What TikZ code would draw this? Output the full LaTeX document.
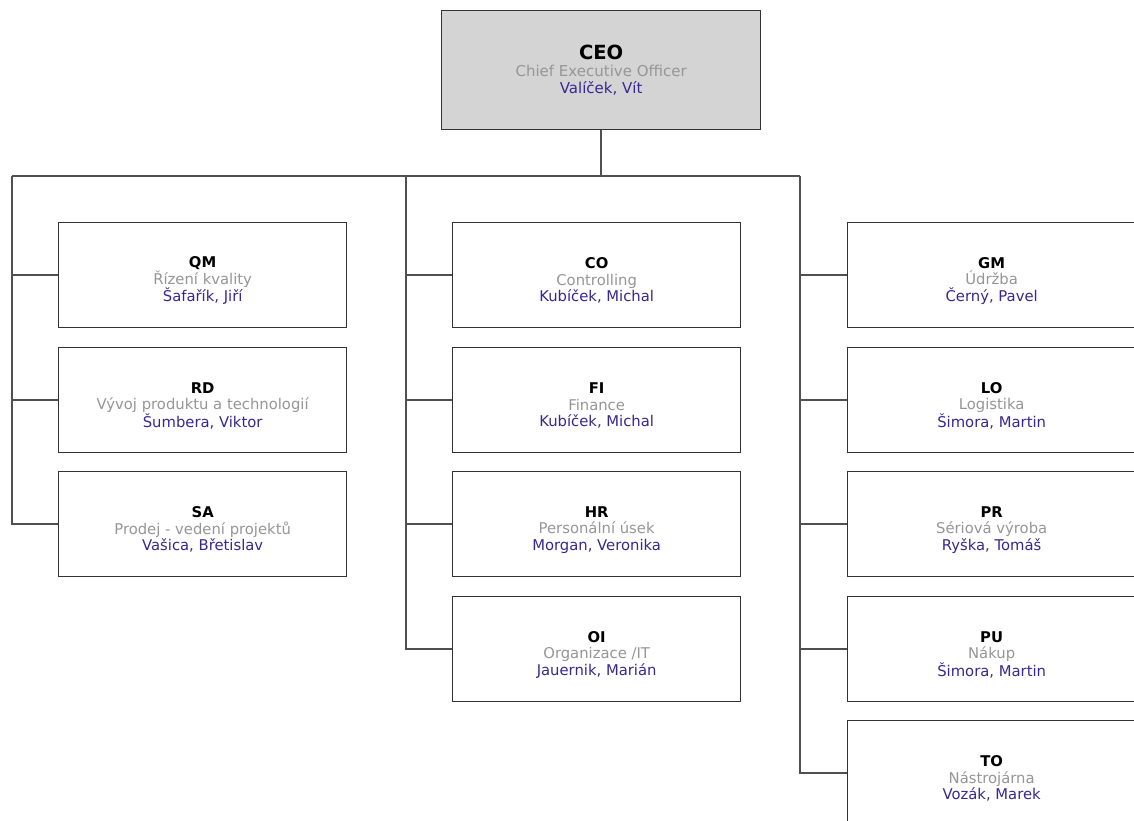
\documentclass[tikz,border=0pt]{standalone}
\usepackage{fontspec}
\setmainfont{DejaVu Sans}
\definecolor{ceogrey}{RGB}{212,212,212}
\definecolor{rolegrey}{RGB}{150,150,150}
\definecolor{nameblue}{RGB}{55,40,145}
\definecolor{linegrey}{RGB}{80,80,80}
\newcommand{\unittext}[3]{{\rule{0pt}{22pt}\bfseries #1}\\{\color{rolegrey}#2}\\{\color{nameblue}#3}}
\tikzset{
  unit/.style={draw=black!80, line width=1.3pt, fill=white, anchor=north west,
    minimum width=288pt, minimum height=105pt, inner sep=0pt, align=center,
    font=\fontsize{14.8}{16.5}\selectfont},
  ceobox/.style={unit, fill=ceogrey, minimum width=319pt, minimum height=119pt,
    font=\fontsize{15}{17}\selectfont},
  link/.style={draw=linegrey, line width=1.6pt}
}
\begin{document}
\begin{tikzpicture}[x=1pt,y=-1pt]
  \useasboundingbox (0,0) rectangle (1134,820);
  \clip (0,0) rectangle (1134,820);
  \fill [white] (0,0) rectangle (1134,820);
  % CEO
  \node [ceobox] (ceo) at (441,10) {{\fontsize{19.5}{20}\bfseries CEO}\\{\color{rolegrey}Chief Executive Officer}\\{\color{nameblue}Valíček, Vít}};
  % bus
  \coordinate (busL) at (12,176);
  \coordinate (busM) at (406,176);
  \coordinate (busR) at (800,176);
  % left column
  \node [unit] (qm) at (58,222) {\unittext{QM}{Řízení kvality}{Šafařík, Jiří}};
  \node [unit] (rd) at (58,347) {\unittext{RD}{Vývoj produktu a technologií}{Šumbera, Viktor}};
  \node [unit] (sa) at (58,471) {\unittext{SA}{Prodej - vedení projektů}{Vašica, Břetislav}};
  % middle column
  \node [unit] (co) at (452,222) {\unittext{CO}{Controlling}{Kubíček, Michal}};
  \node [unit] (fi) at (452,347) {\unittext{FI}{Finance}{Kubíček, Michal}};
  \node [unit] (hr) at (452,471) {\unittext{HR}{Personální úsek}{Morgan, Veronika}};
  \node [unit] (oi) at (452,596) {\unittext{OI}{Organizace /IT}{Jauernik, Marián}};
  % right column
  \node [unit] (gm) at (847,222) {\unittext{GM}{Údržba}{Černý, Pavel}};
  \node [unit] (lo) at (847,347) {\unittext{LO}{Logistika}{Šimora, Martin}};
  \node [unit] (pr) at (847,471) {\unittext{PR}{Sériová výroba}{Ryška, Tomáš}};
  \node [unit] (pu) at (847,596) {\unittext{PU}{Nákup}{Šimora, Martin}};
  \node [unit] (to) at (847,720) {\unittext{TO}{Nástrojárna}{Vozák, Marek}};
  % connectors
  \draw [link] (ceo.south) -- (ceo.south |- busL);
  \draw [link] (busL) -- (busR);
  \draw [link] (busL) |- (qm.west);
  \draw [link] (busL) |- (rd.west);
  \draw [link] (busL) |- (sa.west);
  \draw [link] (busM) |- (co.west);
  \draw [link] (busM) |- (fi.west);
  \draw [link] (busM) |- (hr.west);
  \draw [link] (busM) |- (oi.west);
  \draw [link] (busR) |- (gm.west);
  \draw [link] (busR) |- (lo.west);
  \draw [link] (busR) |- (pr.west);
  \draw [link] (busR) |- (pu.west);
  \draw [link] (busR) |- (to.west);
\end{tikzpicture}
\end{document}
